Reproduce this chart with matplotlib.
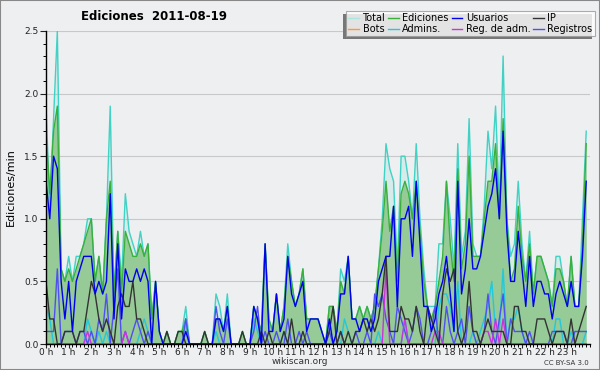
import numpy as np
import matplotlib
matplotlib.use("Agg")
import matplotlib.pyplot as plt
from matplotlib.lines import Line2D
from matplotlib.patches import Rectangle

# 10-minute buckets, 144 per day, values in edits/min
hours = [f"{h} h" for h in range(24)]

total = [1.9, 1.1, 1.8, 2.5, 0.6, 0.5,  0.7, 0.5, 0.7, 0.7, 0.8, 1.0,
         1.0, 0.5, 0.7, 0.4, 1.0, 1.9,  0.4, 0.9, 0.5, 1.2, 0.9, 0.8,
         0.7, 0.9, 0.7, 0.8, 0.2, 0.5,  0.1, 0.0, 0.1, 0.0, 0.0, 0.1,
         0.1, 0.3, 0.0, 0.0, 0.0, 0.0,  0.1, 0.0, 0.0, 0.4, 0.3, 0.1,
         0.4, 0.0, 0.0, 0.0, 0.1, 0.0,  0.0, 0.3, 0.2, 0.1, 0.8, 0.2,
         0.1, 0.4, 0.1, 0.3, 0.8, 0.5,  0.3, 0.4, 0.6, 0.2, 0.2, 0.2,
         0.2, 0.1, 0.0, 0.3, 0.3, 0.1,  0.6, 0.5, 0.7, 0.2, 0.2, 0.3,
         0.2, 0.3, 0.2, 0.3, 0.6, 1.0,  1.6, 1.4, 1.3, 0.6, 1.5, 1.5,
         1.3, 1.0, 1.6, 1.0, 0.6, 0.3,  0.3, 0.3, 0.8, 0.8, 1.3, 1.0,
         0.6, 1.6, 0.7, 0.9, 1.8, 0.8,  0.7, 0.7, 1.1, 1.7, 1.4, 1.9,
         1.1, 2.3, 1.0, 0.7, 0.8, 1.3,  0.8, 0.5, 0.9, 0.4, 0.7, 0.7,
         0.6, 0.5, 0.3, 0.7, 0.7, 0.5,  0.3, 0.7, 0.3, 0.3, 1.0, 1.7]

ediciones = [1.7, 1.2, 1.7, 1.9, 0.6, 0.5,  0.6, 0.5, 0.6, 0.7, 0.8, 0.9,
             1.0, 0.5, 0.7, 0.4, 1.0, 1.3,  0.4, 0.9, 0.4, 0.9, 0.8, 0.7,
             0.7, 0.8, 0.7, 0.8, 0.2, 0.5,  0.1, 0.0, 0.1, 0.0, 0.0, 0.1,
             0.1, 0.2, 0.0, 0.0, 0.0, 0.0,  0.1, 0.0, 0.0, 0.2, 0.2, 0.1,
             0.3, 0.0, 0.0, 0.0, 0.1, 0.0,  0.0, 0.3, 0.2, 0.1, 0.8, 0.2,
             0.1, 0.4, 0.1, 0.3, 0.7, 0.5,  0.3, 0.4, 0.6, 0.2, 0.2, 0.2,
             0.2, 0.1, 0.0, 0.3, 0.3, 0.1,  0.5, 0.4, 0.7, 0.2, 0.2, 0.3,
             0.2, 0.3, 0.2, 0.3, 0.6, 0.9,  1.3, 0.9, 1.1, 0.5, 1.2, 1.3,
             1.2, 1.0, 1.3, 0.9, 0.5, 0.3,  0.2, 0.3, 0.5, 0.7, 1.3, 0.8,
             0.5, 1.4, 0.6, 0.8, 1.5, 0.7,  0.7, 0.7, 1.0, 1.3, 1.3, 1.6,
             1.0, 1.8, 1.0, 0.5, 0.6, 1.1,  0.7, 0.5, 0.8, 0.4, 0.7, 0.7,
             0.6, 0.5, 0.3, 0.6, 0.6, 0.5,  0.3, 0.7, 0.3, 0.3, 0.8, 1.6]

usuarios = [1.3, 1.0, 1.5, 1.4, 0.5, 0.2,  0.5, 0.1, 0.5, 0.6, 0.7, 0.7,
            0.7, 0.4, 0.5, 0.4, 0.5, 1.2,  0.2, 0.8, 0.2, 0.6, 0.5, 0.5,
            0.6, 0.5, 0.6, 0.5, 0.0, 0.5,  0.1, 0.0, 0.0, 0.0, 0.0, 0.0,
            0.0, 0.1, 0.0, 0.0, 0.0, 0.0,  0.0, 0.0, 0.0, 0.2, 0.2, 0.1,
            0.3, 0.0, 0.0, 0.0, 0.0, 0.0,  0.0, 0.3, 0.2, 0.0, 0.8, 0.1,
            0.1, 0.4, 0.1, 0.2, 0.7, 0.4,  0.3, 0.4, 0.5, 0.1, 0.2, 0.2,
            0.2, 0.1, 0.0, 0.2, 0.0, 0.1,  0.4, 0.4, 0.7, 0.2, 0.2, 0.1,
            0.2, 0.2, 0.1, 0.2, 0.5, 0.6,  0.7, 0.7, 1.1, 0.3, 1.0, 1.0,
            1.1, 0.7, 1.3, 0.8, 0.3, 0.3,  0.1, 0.2, 0.4, 0.5, 0.7, 0.4,
            0.1, 1.3, 0.4, 0.6, 1.0, 0.6,  0.6, 0.7, 0.9, 1.1, 1.2, 1.4,
            1.0, 1.7, 0.9, 0.5, 0.5, 0.9,  0.6, 0.3, 0.7, 0.3, 0.5, 0.5,
            0.4, 0.4, 0.2, 0.4, 0.5, 0.4,  0.3, 0.5, 0.3, 0.3, 0.7, 1.3]

ip = [0.5, 0.2, 0.2, 0.0, 0.0, 0.1,  0.1, 0.1, 0.0, 0.1, 0.1, 0.3,
      0.5, 0.4, 0.2, 0.1, 0.2, 0.1,  0.0, 0.3, 0.4, 0.3, 0.3, 0.5,
      0.2, 0.2, 0.1, 0.0, 0.0, 0.0,  0.0, 0.0, 0.1, 0.0, 0.0, 0.1,
      0.1, 0.0, 0.0, 0.0, 0.0, 0.0,  0.1, 0.0, 0.0, 0.0, 0.0, 0.0,
      0.0, 0.0, 0.0, 0.0, 0.1, 0.0,  0.0, 0.0, 0.0, 0.1, 0.0, 0.1,
      0.0, 0.0, 0.0, 0.1, 0.0, 0.2,  0.0, 0.0, 0.1, 0.0, 0.0, 0.0,
      0.0, 0.0, 0.0, 0.1, 0.3, 0.0,  0.1, 0.0, 0.1, 0.0, 0.1, 0.1,
      0.2, 0.1, 0.2, 0.1, 0.2, 0.4,  0.7, 0.1, 0.1, 0.1, 0.3, 0.2,
      0.2, 0.1, 0.3, 0.1, 0.0, 0.3,  0.2, 0.1, 0.0, 0.4, 0.6, 0.5,
      0.6, 0.1, 0.0, 0.1, 0.5, 0.1,  0.1, 0.0, 0.1, 0.2, 0.1, 0.1,
      0.1, 0.1, 0.0, 0.0, 0.3, 0.3,  0.1, 0.1, 0.0, 0.0, 0.2, 0.2,
      0.2, 0.1, 0.0, 0.1, 0.1, 0.1,  0.0, 0.2, 0.0, 0.1, 0.2, 0.3]

bots = [0.0] * 144

admins = [0.3, 0.2, 0.0, 0.0, 0.0, 0.0,  0.0, 0.0, 0.0, 0.0, 0.0, 0.2,
          0.1, 0.0, 0.1, 0.0, 0.1, 0.0,  0.0, 0.0, 0.0, 0.0, 0.0, 0.0,
          0.0, 0.1, 0.2, 0.1, 0.0, 0.0,  0.0, 0.0, 0.0, 0.0, 0.0, 0.0,
          0.0, 0.2, 0.0, 0.0, 0.0, 0.0,  0.0, 0.0, 0.0, 0.1, 0.0, 0.0,
          0.0, 0.0, 0.0, 0.0, 0.0, 0.0,  0.0, 0.2, 0.1, 0.0, 0.0, 0.0,
          0.0, 0.0, 0.0, 0.1, 0.0, 0.0,  0.0, 0.0, 0.0, 0.0, 0.0, 0.0,
          0.0, 0.0, 0.0, 0.0, 0.0, 0.0,  0.0, 0.2, 0.1, 0.0, 0.0, 0.0,
          0.0, 0.0, 0.0, 0.0, 0.1, 0.0,  0.0, 0.0, 0.0, 0.0, 0.0, 0.2,
          0.0, 0.0, 0.0, 0.0, 0.0, 0.0,  0.0, 0.0, 0.3, 0.4, 0.4, 0.3,
          0.1, 0.5, 0.0, 0.0, 0.0, 0.1,  0.0, 0.1, 0.2, 0.3, 0.5, 0.1,
          0.1, 0.6, 0.0, 0.2, 0.2, 0.3,  0.1, 0.0, 0.0, 0.0, 0.0, 0.0,
          0.0, 0.0, 0.0, 0.2, 0.2, 0.0,  0.0, 0.1, 0.0, 0.0, 0.0, 0.1]

reg_adm = [0.0] * 144
for k, v in {11: 0.1, 21: 0.1, 90: 0.6, 95: 0.2, 103: 0.1, 104: 0.1,
             116: 0.1, 117: 0.1, 119: 0.2, 121: 0.2}.items():
    reg_adm[k] = v

registros = [0.1, 0.1, 0.1, 0.6, 0.0, 0.1,  0.1, 0.1, 0.0, 0.1, 0.1, 0.0,
             0.1, 0.0, 0.2, 0.1, 0.4, 0.0,  0.3, 0.6, 0.0, 0.1, 0.0, 0.1,
             0.2, 0.1, 0.0, 0.1, 0.0, 0.0,  0.0, 0.0, 0.0, 0.0, 0.0, 0.0,
             0.0, 0.2, 0.0, 0.0, 0.0, 0.0,  0.0, 0.0, 0.0, 0.3, 0.1, 0.0,
             0.2, 0.0, 0.0, 0.0, 0.0, 0.0,  0.0, 0.1, 0.3, 0.0, 0.1, 0.0,
             0.0, 0.1, 0.0, 0.0, 0.2, 0.0,  0.0, 0.1, 0.0, 0.1, 0.0, 0.0,
             0.0, 0.0, 0.0, 0.1, 0.0, 0.0,  0.1, 0.0, 0.0, 0.0, 0.1, 0.0,
             0.0, 0.1, 0.0, 0.4, 0.3, 0.4,  0.2, 0.1, 0.0, 0.3, 0.2, 0.1,
             0.0, 0.1, 0.3, 0.2, 0.0, 0.0,  0.1, 0.3, 0.0, 0.0, 0.3, 0.1,
             0.0, 0.1, 0.2, 0.0, 0.3, 0.1,  0.0, 0.0, 0.1, 0.4, 0.1, 0.0,
             0.2, 0.4, 0.0, 0.2, 0.1, 0.1,  0.1, 0.0, 0.1, 0.0, 0.0, 0.0,
             0.0, 0.0, 0.1, 0.1, 0.1, 0.1,  0.0, 0.0, 0.1, 0.1, 0.1, 0.1]

# colores
bg = "#EEEFF1"
c_total = "#40D2C4"
c_total_leg = "#A8E6DE"
c_edic = "#3AB03A"
c_edic_fill = "#96CA96"
c_usu = "#0000EE"
c_ip = "#333333"
c_bots = "#FF9933"
c_adm = "#22C8DC"
c_regadm = "#CC33DD"
c_reg = "#5050F0"

x = np.arange(len(total))

fig = plt.figure(figsize=(6, 3.7), dpi=100, facecolor=bg)
ax = fig.add_axes([46 / 600, 26 / 370, 544 / 600, 313 / 370])
ax.set_facecolor(bg)

ax.fill_between(x, total, color=c_total, alpha=0.13, lw=0, zorder=1)
ax.fill_between(x, ediciones, color=c_edic_fill, lw=0, zorder=2)

ax.plot(x, bots, color=c_bots, lw=1.0, zorder=2.5)
ax.plot(x, total, color=c_total, lw=1.0, zorder=3)
ax.plot(x, ediciones, color=c_edic, lw=1.0, zorder=3.1)
ax.plot(x, admins, color=c_adm, lw=1.0, zorder=3.2)
ax.plot(x, registros, color=c_reg, lw=1.0, zorder=3.3)
ax.plot(x, reg_adm, color=c_regadm, lw=1.0, zorder=3.4)
ax.plot(x, ip, color=c_ip, lw=1.0, zorder=3.5)
ax.plot(x, usuarios, color=c_usu, lw=1.0, zorder=3.6)

ax.set_xlim(0, 144)
ax.set_ylim(0, 2.5)
ax.set_yticks(np.arange(0, 2.51, 0.5))
ax.set_yticks(np.arange(0, 2.51, 0.1), minor=True)
ax.set_yticklabels([f"{v:.1f}" for v in np.arange(0, 2.51, 0.5)])
ax.set_xticks(np.arange(0, 144, 6))
ax.set_xticks(np.arange(0, 145, 1), minor=True)
ax.set_xticklabels(hours)
ax.tick_params(axis="y", which="major", length=4, width=0.8, labelsize=6.5,
               colors="#222222", pad=1.5)
ax.tick_params(axis="x", which="major", length=3, width=0.8, labelsize=6.5,
               colors="#222222", pad=0)
ax.tick_params(axis="both", which="minor", length=2.5, width=0.7)
ax.grid(axis="y", which="major", color="#C8C8C8", lw=0.8, zorder=0)
ax.set_axisbelow(True)
for s in ["top", "right"]:
    ax.spines[s].set_visible(False)
for s in ["left", "bottom"]:
    ax.spines[s].set_linewidth(1.0)
    ax.spines[s].set_zorder(5)
ax.set_ylabel("Ediciones/min", fontsize=8, labelpad=6)

fig.text(154 / 600, 1 - 17 / 370, "Ediciones  2011-08-19", fontsize=8.5,
         fontweight="bold", ha="center", va="center")
fig.text(300 / 600, 1 - 362 / 370, "wikiscan.org", fontsize=6.5,
         ha="center", va="center", color="#333333")
fig.text(589 / 600, 1 - 363 / 370, "CC BY-SA 3.0", fontsize=5,
         ha="right", va="center", color="#333333")

# leyenda: orden por columnas para obtener dos filas
labels = ["Total", "Bots", "Ediciones", "Admins.", "Usuarios",
          "Reg. de adm.", "IP", "Registros"]
colors = [c_total_leg, c_bots, c_edic, c_adm, c_usu, c_regadm, c_ip, c_reg]
handles = [Line2D([], [], color=c, lw=1.0) for c in colors]
leg = fig.legend(handles, labels, ncol=4, loc="upper left",
                 bbox_to_anchor=(346 / 600, 1 - 11 / 370), fontsize=7,
                 frameon=True, fancybox=False, handlelength=1.1,
                 handletextpad=0.35, columnspacing=0.3, labelspacing=0.05,
                 borderpad=0.25, borderaxespad=0)
leg.get_frame().set_edgecolor("#999999")
leg.get_frame().set_linewidth(0.8)
leg.get_frame().set_facecolor("white")
leg.set_zorder(10)

# sombra de la leyenda
fig.canvas.draw()
bb = leg.get_window_extent().transformed(fig.transFigure.inverted())
fig.patches.append(Rectangle((bb.x0 - 3 / 600, bb.y0 - 3 / 370), bb.width, bb.height,
                             transform=fig.transFigure, facecolor="#777777",
                             edgecolor="none", zorder=9))

# borde de la imagen
fig.patches.append(Rectangle((0, 0), 1, 1, transform=fig.transFigure,
                             facecolor="none", edgecolor="#888888", lw=1.5, zorder=20))

fig.savefig("out.png", dpi=100, facecolor=bg)
